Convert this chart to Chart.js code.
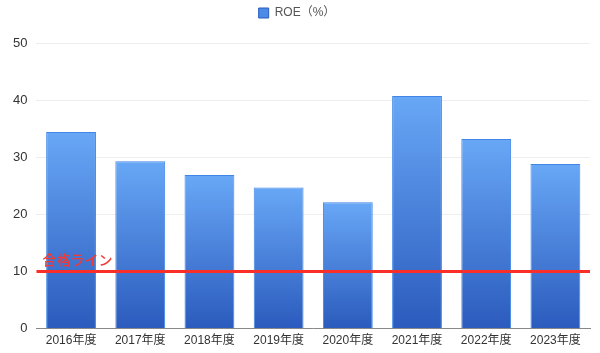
<!DOCTYPE html>
<html>
<head>
<meta charset="utf-8">
<script src="https://cdn.jsdelivr.net/npm/chart.js@4/dist/chart.umd.min.js"></script>
<style>
  html, body { margin: 0; padding: 0; background: #fff; }
  #wrap { width: 600px; height: 353px; }
</style>
</head>
<body>
<div id="wrap"><canvas id="roeChart"></canvas></div>
<script>
// === Data ===
const years = ['2016年度', '2017年度', '2018年度', '2019年度', '2020年度', '2021年度', '2022年度', '2023年度'];
const roeValues = [34.4, 29.3, 26.9, 24.7, 22.1, 40.7, 33.2, 28.8];
const passLine = 10;
const passLabel = '合格ライン';

const fontFamily = '"Liberation Sans", "Noto Sans CJK JP", sans-serif';

// bar gradient from its own top to the baseline
function barGradient(ctx) {
    const chart = ctx.chart;
    const { chartArea } = chart;
    if (!chartArea) return '#4a8ae8';
    const y = chart.scales.y;
    const v = ctx.raw === undefined ? 0 : ctx.raw;
    const top = y.getPixelForValue(v);
    const bottom = y.getPixelForValue(0);
    const g = chart.ctx.createLinearGradient(0, top, 0, bottom);
    g.addColorStop(0, '#68a7f6');
    g.addColorStop(1, '#2b5bbd');
    return g;
}

// extra room under the legend
const legendMargin = {
    id: 'legendMargin',
    beforeInit(chart) {
        const fit = chart.legend.fit;
        chart.legend.fit = function () {
            fit.bind(chart.legend)();
            this.height += 14;
        };
    }
};

// red reference line + label
const passLinePlugin = {
    id: 'passLine',
    afterDatasetsDraw(chart) {
        const { ctx, chartArea, scales } = chart;
        const yPx = scales.y.getPixelForValue(passLine);
        ctx.save();
        ctx.strokeStyle = '#fb2f2a';
        ctx.lineWidth = 3;
        ctx.beginPath();
        ctx.moveTo(chartArea.left, yPx);
        ctx.lineTo(chartArea.right, yPx);
        ctx.stroke();
        ctx.fillStyle = '#f03a33';
        ctx.font = '500 14px "Noto Sans CJK JP", sans-serif';
        ctx.textBaseline = 'alphabetic';
        ctx.fillText(passLabel, chartArea.left + 6, yPx - 6);
        ctx.restore();
    }
};

new Chart(document.getElementById('roeChart'), {
    type: 'bar',
    data: {
        labels: years,
        datasets: [{
            label: 'ROE（%）',
            data: roeValues,
            backgroundColor: barGradient,
            borderColor: '#3f86e6',
            borderWidth: 1
        }]
    },
    options: {
        responsive: true,
        maintainAspectRatio: false,
        animation: false,
        layout: { padding: { left: 4, right: 10, top: 0, bottom: 0 } },
        plugins: {
            legend: {
                labels: {
                    boxWidth: 10,
                    boxHeight: 10,
                    padding: 7,
                    color: '#555',
                    font: { family: fontFamily, size: 12 },
                    generateLabels(chart) {
                        return [{
                            text: 'ROE（%）',
                            fillStyle: '#4a8ae8',
                            strokeStyle: '#2b5bbd',
                            lineWidth: 1,
                            datasetIndex: 0,
                            fontColor: '#555'
                        }];
                    }
                }
            },
            tooltip: { enabled: false }
        },
        scales: {
            x: {
                grid: { display: false, drawTicks: false },
                border: { color: '#888' },
                ticks: { color: '#333', font: { family: fontFamily, size: 12 }, padding: 5 }
            },
            y: {
                min: 0,
                max: 50,
                grid: { color: '#eeeeee', drawTicks: false },
                border: { display: false },
                ticks: { stepSize: 10, color: '#333', font: { family: fontFamily, size: 13 }, padding: 9 }
            }
        }
    },
    plugins: [legendMargin, passLinePlugin]
});
</script>
</body>
</html>
